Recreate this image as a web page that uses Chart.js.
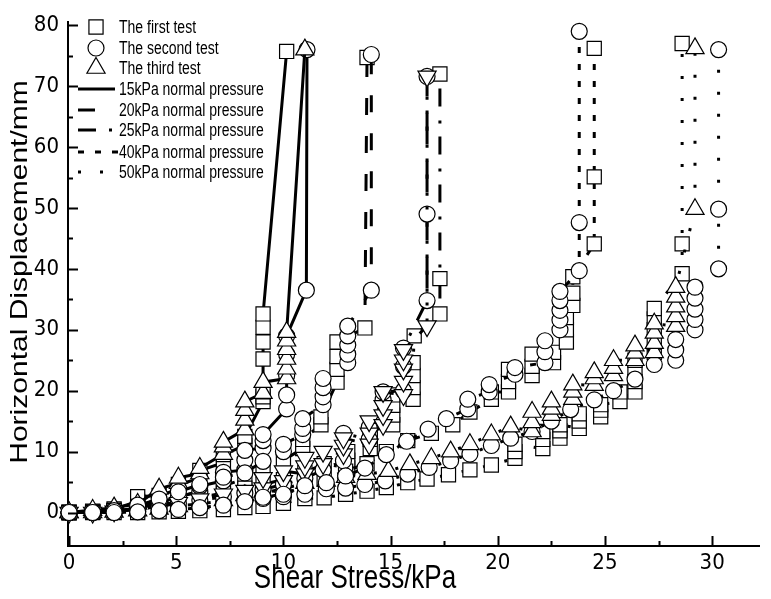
<!DOCTYPE html>
<html>
<head>
<meta charset="utf-8">
<title>Shear stress vs horizontal displacement</title>
<script src="https://cdn.jsdelivr.net/npm/chart.js@4.4.1/dist/chart.umd.min.js"></script>
<style>
  html, body { margin: 0; padding: 0; background: #fff; }
  #wrap { width: 771px; height: 599px; }
</style>
</head>
<body>
<div id="wrap"><canvas id="shear" width="771" height="599"></canvas></div>
<script>
// tick labels
var xTicks = [0, 5, 10, 15, 20, 25, 30];
var yTicks = [0, 10, 20, 30, 40, 50, 60, 70, 80];

// legend texts
var testNames = ["The first test", "The second test", "The third test"];
var pressureNames = ["15kPa normal pressure", "20kPa normal pressure", "25kPa normal pressure",
                     "40kPa normal pressure", "50kPa normal pressure"];

// [shear stress kPa, horizontal displacement mm]
// 15kPa
var p15Test1 = [[0,0],[1.1,0.2],[2.1,0.6],[3.2,1.8],[3.2,2.6],[4.2,2.8],[5.1,3.8],[5.1,4.6],[6.1,5.6],[6.1,6.9],
  [7.2,8.2],[7.2,9.5],[8.2,11],[8.2,12.5],[9.05,18.2],[9.05,19],[9.05,19.8],[9.05,25.2],[9.05,28],[9.05,30.4],
  [9.05,32.6],[10.15,75.7]];
var p15Test2 = [[0,0],[1.1,0],[2.1,0.1],[3.2,0.6],[4.2,1.6],[5.1,2.6],[6.1,3.4],[6.1,4.3],[7.2,5.2],[7.2,6.6],
  [8.2,7],[8.2,8.6],[8.2,10.2],[9.05,10.6],[9.05,11.8],[9.05,12.8],[10.15,17],[10.15,19.3],[10.15,22.5],
  [10.15,26],[10.15,29],[11.07,36.5],[11.1,76]];
var p15Test3 = [[0,0],[1.1,0.4],[2.1,0.8],[3.2,1.4],[4.2,3.9],[5.1,4.8],[5.1,5.7],[6.1,6.4],[6.1,7.3],[7.2,9.6],
  [7.2,10.8],[7.2,11.6],[8.2,13.6],[8.2,15.2],[8.2,16.8],[8.2,18.2],[9.05,19.6],[9.05,21.4],[10.15,22],
  [10.15,23.6],[10.15,25.2],[10.15,26.8],[10.15,28.2],[10.15,29.6],[11.0,76]];
// 20kPa
var p20Test1 = [[0,0],[1.1,0.1],[2.1,0.4],[3.2,1],[4.2,1.8],[5.1,2.6],[6.1,3.5],[7.2,4.4],[8.2,5.5],[9.05,7],
  [10,8.6],[10.9,10.5],[10.9,12],[11.75,14.4],[11.75,15.7],[12.5,21.4],[12.5,23.5],[12.5,25.6],[12.5,28],
  [13.8,30.3],[13.9,74.7]];
var p20Test2 = [[0,0],[1.1,0],[2.1,0.3],[3.2,1.2],[4.2,2.2],[5.1,3.4],[6.1,4.6],[7.2,5.8],[8.2,6.5],[9.05,8.4],
  [10,10],[10,11.2],[10.9,12.8],[10.9,13.8],[10.9,15.4],[11.85,17.7],[11.85,19],[11.85,20.5],[11.85,22],
  [13,24.6],[13,26],[13,27.5],[13,29],[13,30.6],[14.1,36.5],[14.1,75.2]];
// 25kPa
var p25Test1 = [[0,0],[1.1,0.1],[2.1,0.3],[3.2,0.7],[4.2,1.2],[5.1,1.8],[6.1,2.5],[7.2,3.2],[8.2,4],[9.05,4.6],
  [10,5.4],[11,6.6],[11.9,8],[13,7.3],[13,8.6],[13,10],[14.05,10.5],[14.05,12],[14.05,13.3],[15.1,14.4],
  [15.1,16],[15.1,17.6],[15.1,19.3],[16.05,18.6],[16.05,20.5],[16.05,22.5],[16.05,24.6],[16.1,29],
  [17.3,32.6],[17.3,38.4],[17.3,72]];
var p25Test2 = [[0,0],[1.1,0],[2.1,0.2],[3.2,0.5],[4.2,1],[5.1,1.5],[6.1,2],[7.2,2.6],[8.2,3.2],[9.05,3.8],
  [10,4.6],[11,5.6],[11.85,7],[12.8,8.5],[12.8,13],[14,12],[14,14],[14.65,18.5],[14.65,19.8],[15.6,20],
  [15.6,24],[15.6,27],[16.7,34.8],[16.7,49],[16.7,71.6]];
var p25Test3 = [[0,0],[1.1,0],[2.1,0.2],[3.2,0.6],[4.2,1],[5.1,1.6],[6.1,2.2],[7.2,3],[8.2,3.6],[9.05,4],
  [9.05,5.7],[10,5.2],[10,6.8],[11,6.3],[11,7.6],[11,9],[11.85,8],[11.85,10],[12.8,9.6],[12.8,11],[12.8,12.2],
  [14,11.2],[14,13],[14,15],[14.65,14.4],[14.65,16],[14.65,17.5],[14.65,19.8],[15.6,19.3],[15.6,21.5],
  [15.6,23.5],[15.6,25],[15.6,26.7],[16.7,30.6],[16.7,71.6]];
// 40kPa
var p40Test1 = [[0,0],[1.1,0.1],[2.1,0.3],[3.2,0.5],[4.2,0.8],[5.1,1.1],[6.1,1.4],[7.2,1.9],[8.2,2.5],[9.05,3.2],
  [10,3.9],[11,4.8],[11.9,5.5],[12.9,6.8],[13.9,8],[14.8,10],[15.8,11.8],[16.9,13],[17.9,14.4],[18.7,16.5],
  [19.7,18.6],[19.7,19.8],[20.5,19.8],[20.5,21.5],[20.5,23.5],[21.6,22.5],[21.6,24],[21.6,26],[22.6,24.6],
  [22.6,26.3],[23.2,28],[23.2,30],[23.2,32],[23.5,34],[23.5,36],[23.5,38.7],[24.5,44.1],[24.5,55.1],[24.5,76.2]];
var p40Test2 = [[0,0],[1.1,0],[2.1,0],[3.2,0.1],[4.2,0.3],[5.1,0.5],[6.1,0.8],[7.2,1.2],[8.2,1.8],[9.05,2.5],
  [10,3],[11,4.4],[12,4.9],[12.9,6],[13.8,7.3],[14.8,9.5],[15.75,11.7],[16.75,13.7],[17.6,15.4],[18.6,17],
  [18.6,18.6],[19.6,19.8],[19.6,21],[20.8,22.7],[20.8,23.8],[22.2,24.6],[22.2,26.4],[22.2,28.2],[22.9,30],
  [22.9,31.6],[22.9,33.2],[22.9,34.8],[22.9,36.3],[23.8,39.7],[23.8,47.6],[23.8,79]];
// 50kPa
var p50Test1 = [[0,0],[1.1,0],[2.1,0],[3.2,0],[4.2,0.1],[5.1,0.2],[6.1,0.3],[7.2,0.5],[8.2,0.8],[9.05,1],
  [10,1.5],[11,2.3],[11.9,2.4],[12.9,3],[13.9,3.5],[14.8,4.1],[15.8,4.9],[16.7,5.5],[17.7,6.2],[18.7,7],
  [19.7,7.8],[20.8,8.9],[20.8,10],[20.8,11.2],[22.1,10.5],[22.1,12],[22.1,13.3],[22.9,12.2],[22.9,13.4],
  [22.9,14.4],[23.8,13.8],[23.8,15],[23.8,16.2],[24.8,15.7],[24.8,16.8],[24.8,17.7],[25.7,18.2],[25.7,19.8],
  [26.4,19.8],[26.4,21.5],[26.4,23.2],[26.4,25],[27.3,26.3],[27.3,28],[27.3,30],[27.3,31.8],[27.3,33.5],
  [28.6,39.2],[28.6,44.1],[28.6,77]];
var p50Test2 = [[0,0],[1.1,0],[2.1,0],[3.2,0.2],[4.2,0.4],[5.1,0.7],[6.1,1],[7.2,1.4],[8.2,1.9],[9.05,2.3],
  [10,2.6],[11,3],[12,3.9],[12.9,4],[13.8,4.6],[14.75,5.2],[15.8,6.3],[16.8,7.4],[17.8,8.5],[18.7,9.6],
  [19.7,11],[20.6,12.2],[21.6,13.3],[22.5,15],[23.4,16.9],[24.5,18.5],[25.4,20],[26.4,21.9],[27.3,24.3],
  [28.3,25],[28.3,26.7],[28.3,28.4],[29.2,30],[29.2,31.7],[29.2,33.4],[29.2,35.2],[29.2,37],[30.3,40],
  [30.3,49.8],[30.3,76]];
var p50Test3 = [[0,0],[1.1,0],[2.1,0.1],[3.2,0.3],[4.2,0.6],[5.1,1],[6.1,1.5],[7.2,2],[8.2,2.8],[9.05,3.4],
  [10,4.2],[11,4.8],[12,5.2],[12.9,5.8],[13.9,6.3],[14.9,6.8],[15.9,7.9],[16.9,8.9],[17.8,10],[18.7,11.2],
  [19.7,12.8],[20.6,14.1],[21.6,13.3],[21.6,14.8],[21.6,16.5],[22.5,16],[22.5,17],[22.5,18.2],[23.5,18.6],
  [23.5,19.8],[23.5,21],[24.5,20.9],[24.5,22],[24.5,23],[25.4,22.5],[25.4,23.7],[25.4,25],[26.4,25],
  [26.4,26.2],[26.4,27.4],[27.3,26.3],[27.3,27.8],[27.3,29.5],[27.3,31],[28.3,30.6],[28.3,32.2],[28.3,33.8],
  [28.3,35.4],[28.3,37],[29.2,49.8],[29.2,76.2]];

// line pattern for each normal pressure
var dashes = {
  p15: [],
  p20: [17, 21],
  p25: [18, 13, 3, 14],
  p40: [6, 11],
  p50: [3, 19]
};

// marker for each test
var marks = {
  test1: { style: 'rect', radius: 10, rot: 0 },
  test2: { style: 'circle', radius: 8, rot: 0 },
  test3: { style: 'triangle', radius: 10.5, rot: 0 },
  test3down: { style: 'triangle', radius: 10.5, rot: 180 }
};

var NARROW = '"Liberation Sans Narrow", "Arial Narrow", "DejaVu Sans Condensed", "Liberation Sans", sans-serif';
var SANS = '"Liberation Sans", Arial, sans-serif';

function series(points, mark, dash) {
  return {
    data: points.map(function(p) { return { x: p[0], y: p[1] }; }),
    showLine: true,
    fill: false,
    tension: 0,
    clip: false,
    borderColor: '#000',
    borderWidth: 3,
    borderDash: dash,
    pointStyle: mark.style,
    pointRotation: mark.rot,
    pointRadius: mark.radius,
    pointHoverRadius: mark.radius,
    pointBackgroundColor: '#fff',
    pointBorderColor: '#000',
    pointBorderWidth: 1.2
  };
}

// listed in painting order (bottom first); chart.js paints the first dataset on top,
// so the list is reversed before it goes in
var datasets = [
  series(p15Test1, marks.test1, dashes.p15),
  series(p20Test1, marks.test1, dashes.p20),
  series(p25Test1, marks.test1, dashes.p25),
  series(p40Test1, marks.test1, dashes.p40),
  series(p50Test1, marks.test1, dashes.p50),
  series(p50Test2, marks.test2, dashes.p50),
  series(p50Test3, marks.test3, dashes.p50),
  series(p15Test2, marks.test2, dashes.p15),
  series(p25Test2, marks.test2, dashes.p25),
  series(p15Test3, marks.test3, dashes.p15),
  series(p25Test3, marks.test3down, dashes.p25),
  series(p20Test2, marks.test2, dashes.p20),
  series(p40Test2, marks.test2, dashes.p40)
].reverse();

// text drawn a bit taller than wide, like the original figure
function tallText(ctx, text, x, y, size, rotate) {
  ctx.save();
  ctx.translate(x, y);
  if (rotate) {
    ctx.rotate(-Math.PI / 2);
    ctx.scale(1.25, 1);
  } else {
    ctx.scale(1, 1.25);
  }
  ctx.font = size + 'px ' + SANS;
  ctx.fillText(text, 0, 0);
  ctx.restore();
}

var decorations = {
  id: 'decorations',
  afterDraw: function(chart) {
    var ctx = chart.ctx, xs = chart.scales.x, ys = chart.scales.y, a = chart.chartArea;
    ctx.save();
    ctx.strokeStyle = '#000';
    ctx.fillStyle = '#000';
    ctx.lineWidth = 2;
    ctx.setLineDash([]);

    // inward ticks, major and minor
    ctx.beginPath();
    for (var v = 0; v <= 30; v += 2.5) {
      var px = Math.round(xs.getPixelForValue(v)) + 0.5;
      ctx.moveTo(px, a.bottom);
      ctx.lineTo(px, a.bottom - (v % 5 === 0 ? 10 : 5));
    }
    for (var w = 0; w <= 80; w += 5) {
      var py = Math.round(ys.getPixelForValue(w)) + 0.5;
      ctx.moveTo(a.left, py);
      ctx.lineTo(a.left + (w % 10 === 0 ? 10 : 5), py);
    }
    ctx.stroke();

    // axis titles
    ctx.textAlign = 'center';
    ctx.textBaseline = 'alphabetic';
    tallText(ctx, 'Shear Stress/kPa', 355, 588, 26, false);
    tallText(ctx, 'Horizontal Displacement/mm', 27, 272, 24, true);

    // legend
    var rows = [27, 48, 68, 89, 110, 130, 152, 172];
    var testMarks = [marks.test1, marks.test2, marks.test3];
    ctx.textAlign = 'left';
    ctx.textBaseline = 'middle';
    for (var i = 0; i < 3; i++) {
      ctx.save();
      ctx.fillStyle = '#fff';
      ctx.lineWidth = 1.2;
      Chart.helpers.drawPoint(ctx, {
        pointStyle: testMarks[i].style, radius: testMarks[i].radius,
        rotation: 0, borderWidth: 1.2
      }, 96, rows[i]);
      ctx.restore();
      tallText(ctx, testNames[i], 119, rows[i] + 1, 14, false);
    }
    var keys = ['p15', 'p20', 'p25', 'p40', 'p50'];
    var lens = [37, 37, 37, 40, 40];
    ctx.lineWidth = 3;
    for (var j = 0; j < 5; j++) {
      var ry = rows[j + 3];
      ctx.setLineDash(dashes[keys[j]]);
      ctx.beginPath();
      ctx.moveTo(78, ry);
      ctx.lineTo(78 + lens[j], ry);
      ctx.stroke();
      ctx.setLineDash([]);
      tallText(ctx, pressureNames[j], 119, ry + 1, 14, false);
    }
    ctx.restore();
  }
};

new Chart(document.getElementById('shear').getContext('2d'), {
  type: 'scatter',
  data: { datasets: datasets },
  options: {
    responsive: false,
    animation: false,
    events: [],
    layout: { padding: { top: 15, right: 0, left: 0, bottom: 0 } },
    plugins: { legend: { display: false }, tooltip: { enabled: false } },
    scales: {
      x: {
        type: 'linear', min: -0.05, max: 32.2,
        afterBuildTicks: function(s) { s.ticks = xTicks.map(function(v) { return { value: v }; }); },
        afterFit: function(s) { s.height = 53; },
        grid: { display: false, drawTicks: false },
        border: { display: true, color: '#000', width: 2 },
        ticks: { color: '#000', font: { family: NARROW, size: 22 }, padding: 4, maxRotation: 0, autoSkip: false }
      },
      y: {
        type: 'linear', min: -5.5, max: 80.5,
        afterBuildTicks: function(s) { s.ticks = yTicks.map(function(v) { return { value: v }; }); },
        afterFit: function(s) { s.width = 68; },
        grid: { display: false, drawTicks: false },
        border: { display: true, color: '#000', width: 2 },
        ticks: { color: '#000', font: { family: NARROW, size: 22 }, padding: 9, autoSkip: false }
      }
    }
  },
  plugins: [decorations]
});
</script>
</body>
</html>
